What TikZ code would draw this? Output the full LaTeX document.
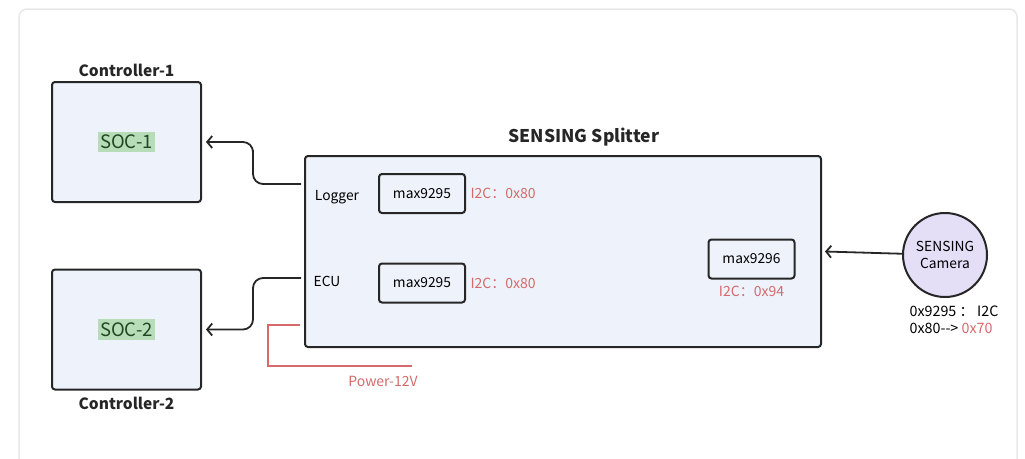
\documentclass[tikz,border=0pt]{standalone}
\usepackage{fontspec}
\setmainfont{Noto Sans CJK SC}
\usepackage{tikz}
\usetikzlibrary{positioning,calc,arrows.meta}
\definecolor{boxfill}{HTML}{EEF2FB}
\definecolor{camfill}{HTML}{E4DEF7}
\definecolor{socgreen}{HTML}{B6DDB8}
\definecolor{regred}{HTML}{D46A6A}
\definecolor{edge}{HTML}{262626}
\tikzset{ctrlbox/.style={draw=edge,line width=2pt,fill=boxfill,rounded corners=3pt,minimum width=149pt,minimum height=120pt},
         chipbox/.style={draw=edge,line width=2pt,rounded corners=3pt,minimum width=86pt,minimum height=39pt,font=\fontsize{13.8}{15}\selectfont},
         reg/.style={text=regred,font=\fontsize{14}{15}\selectfont},
         title/.style={font=\fontsize{15.5}{17}\selectfont\bfseries,text=edge},
         soc/.style={fill=socgreen,inner xsep=2pt,inner ysep=3pt,font=\fontsize{18.5}{20}\selectfont,text=edge!85!green},
         power/.style={draw=regred,line width=1.5pt}
}
\tikzstyle{arrow} = [line width=1.8pt,draw=edge,rounded corners=10pt,-{Straight Barb[length=5pt,width=12pt]}]

\begin{document}
\begin{tikzpicture}[x=1pt,y=-1pt]
\useasboundingbox (0,0) rectangle (1025,458);
\draw[draw=black!9,line width=1.5pt,rounded corners=8pt] (19,9) rectangle (1017,480);

% controllers
\node[ctrlbox] (ctrl1) at (126.5,142) {};
\node[soc] (soc1) at (ctrl1) {SOC-1};
\node[title,above=1pt of ctrl1] (ctrl1name) {Controller-1};
\node[ctrlbox] (ctrl2) at (126.5,329.5) {};
\node[soc] (soc2) at (ctrl2) {SOC-2};
\node[title,below=3pt of ctrl2] (ctrl2name) {Controller-2};

% splitter
\node[draw=edge,line width=2pt,fill=boxfill,rounded corners=3pt,minimum width=516pt,minimum height=191pt] (splitter) at (563,251.5) {};
\node[title,font=\fontsize{17.5}{19}\selectfont\bfseries,above=5pt of splitter,xshift=21pt] (splittername) {SENSING Splitter};
\node[font=\fontsize{13.8}{15}\selectfont] (logger) at (337,197) {Logger};
\node[font=\fontsize{13.8}{15}\selectfont] (ecu) at (327,281) {ECU};
\node[chipbox] (ser1) at (422,193.5) {max9295};
\node[reg,right=1pt of ser1] (ser1reg) {I2C：0x80};
\node[chipbox] (ser2) at (422,283) {max9295};
\node[reg,right=1pt of ser2] (ser2reg) {I2C：0x80};
\node[chipbox] (des) at (751.5,259) {max9296};
\node[reg,below=3pt of des] (desreg) {I2C：0x94};

% camera
\node[circle,draw=edge,line width=2pt,fill=camfill,minimum size=84pt,align=center,inner sep=0pt,font=\fontsize{13.8}{17}\selectfont] (cam) at (945,255) {SENSING\\Camera};
\node[below=4pt of cam,xshift=9pt,align=left,font=\fontsize{14.3}{17.5}\selectfont] (camnote) {0x9295 ： I2C\\0x80-{}-{}> \textcolor{regred}{0x70}};

% links
\coordinate (bend1) at (253,160);
\coordinate (bend2) at (253,300);
\draw[arrow] ([yshift=67.5pt,xshift=-3pt]splitter.west) -| (bend1) |- ([xshift=4pt]ctrl1.east);
\draw[arrow] ([yshift=-26.5pt,xshift=-3pt]splitter.west) -| (bend2) |- ([xshift=4pt]ctrl2.east);
\draw[arrow] (cam) -- ([xshift=3pt]splitter.east);

% power
\coordinate (pwrin) at (300,325);
\coordinate (pwrend) at (412,366);
\draw[power] (pwrin) -- ++(-32,0) |- (pwrend);
\node[reg] (pwrname) at (383,381) {Power-12V};

\end{tikzpicture}
\end{document}
